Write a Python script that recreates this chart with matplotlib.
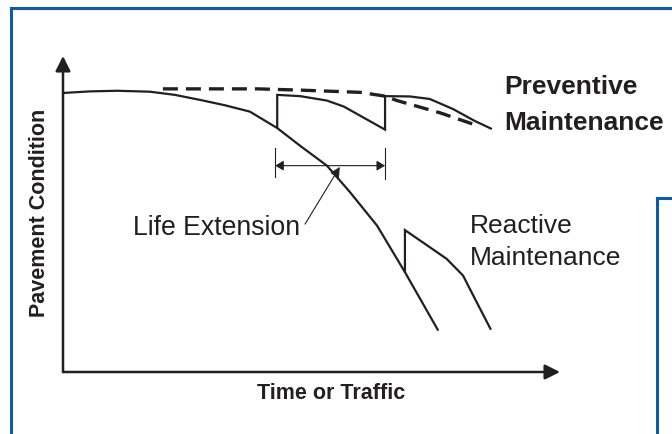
import matplotlib.pyplot as plt
from matplotlib.lines import Line2D

# schematic values, time/traffic (0-100) vs pavement condition (0-100)
main_t = [0, 5.4, 10.9, 17.5, 22.5, 27.6, 32.6, 37.6, 43.1, 47.7, 53.1, 57.7, 63.2, 68.8, 75.5]
main_c = [88.3, 88.8, 89.0, 88.7, 87.7, 86.1, 84.4, 82.4, 77.2, 71.6, 65.3, 57.0, 46.3, 31.6, 13.1]

preventive_t = [43.1, 43.1, 47.7, 53.1, 56.5, 59.8, 64.8, 64.8, 69.8, 73.8, 78.5, 82.9, 86.3]
preventive_c = [77.2, 87.7, 87.3, 85.9, 84.0, 81.1, 76.7, 87.3, 87.2, 86.4, 83.2, 79.4, 76.9]

envelope_t = [20.1, 39.2, 47.7, 59.8, 64.8, 67.2, 75.9, 83.5]
envelope_c = [89.6, 89.6, 89.2, 88.5, 87.3, 85.9, 82.0, 77.9]

reactive_t = [68.8, 68.8, 71.4, 77.2, 80.5, 83.2, 86.1]
reactive_c = [31.6, 44.9, 42.1, 35.8, 30.5, 22.2, 13.4]

life_ext_start, life_ext_end, life_ext_level = 42.7, 64.8, 65.3

W, H = 672, 435
blue = '#0b5cad'
ink = '#231f20'
plt.rcParams['font.family'] = ['Liberation Sans', 'DejaVu Sans']


def fx(px):
    return px / W


def fy(py):
    return 1 - py / H


fig = plt.figure(figsize=(W / 100, H / 100), dpi=100)
ax = fig.add_axes([fx(63), fy(373), (560 - 63) / W, (373 - 57) / H])
ax.set_xlim(0, 100)
ax.set_ylim(0, 100)
ax.axis('off')

# axes with arrow heads
axis_arrow = dict(arrowstyle='-|>,head_length=0.6,head_width=0.3', mutation_scale=15,
                  lw=1.8, color=ink, shrinkA=0, shrinkB=0)
ax.annotate('', xy=(0, 100), xytext=(0, 0), arrowprops=axis_arrow, annotation_clip=False)
ax.annotate('', xy=(100, 0), xytext=(0, 0), arrowprops=axis_arrow, annotation_clip=False)

line_kw = dict(color=ink, lw=1.6, solid_joinstyle='miter', solid_capstyle='butt')
ax.plot(main_t, main_c, **line_kw)
ax.plot(preventive_t, preventive_c, **line_kw)
ax.plot(reactive_t, reactive_c, **line_kw)
ax.plot(envelope_t, envelope_c, color=ink, lw=2.4, linestyle=(0, (4.5, 2.4)))

# life extension dimension
ax.plot([life_ext_start, life_ext_start], [61.7, 70.9], color=ink, lw=0.8)
ax.plot([life_ext_end, life_ext_end], [61.0, 70.9], color=ink, lw=0.8)
ax.annotate('', xy=(life_ext_end, life_ext_level), xytext=(life_ext_start, life_ext_level),
            arrowprops=dict(arrowstyle='<|-|>,head_length=0.5,head_width=0.3', mutation_scale=10,
                            lw=0.8, color=ink, shrinkA=0, shrinkB=0))
ax.annotate('', xy=(55.7, 64.9), xytext=(48.7, 46.8),
            arrowprops=dict(arrowstyle='-|>,head_length=0.5,head_width=0.25', mutation_scale=12,
                            lw=0.8, color=ink, shrinkA=0, shrinkB=0))

txt = dict(color=ink, va='baseline')
fig.text(fx(504), fy(94), 'Preventive', fontsize=19, weight='bold', **txt)
fig.text(fx(504), fy(130), 'Maintenance', fontsize=19, weight='bold', **txt)
fig.text(fx(470), fy(233), 'Reactive', fontsize=19, **txt)
fig.text(fx(470), fy(265), 'Maintenance', fontsize=19, **txt)
fig.text(fx(300), fy(235), 'Life Extension', fontsize=19.2, ha='right', **txt)
fig.text(fx(331), fy(399), 'Time or Traffic', fontsize=15.5, weight='bold', ha='center', **txt)
fig.text(fx(40), fy(213), 'Pavement Condition', fontsize=15.5, weight='bold', rotation=90,
         ha='center', va='center', color=ink)

# blue frames
for xs, ys in [([11, 11], [435, 9]), ([11, 672], [9, 9]),
               ([657, 657], [435, 199]), ([657, 672], [199, 199])]:
    fig.add_artist(Line2D([fx(x) for x in xs], [fy(y) for y in ys], color=blue, lw=2.2))

fig.savefig('out.png', dpi=100)
